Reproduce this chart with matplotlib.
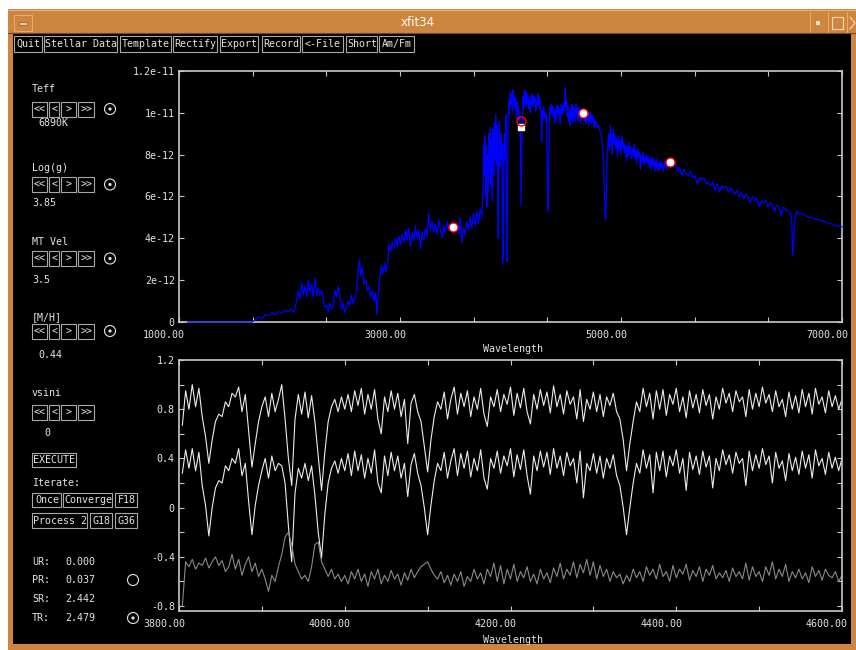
import numpy as np
import matplotlib
matplotlib.use('Agg')
import matplotlib.pyplot as plt
from matplotlib.patches import Rectangle, Circle
from matplotlib.transforms import ScaledTranslation

# ── SED (flux in units of 1e-12) ─────────────────────────────────────────────
sed_wave = [
    1080, 1660, 1690, 1720, 1750, 1780, 1810, 1840, 1870, 1900,
    1930, 1960, 1990, 2020, 2040, 2060, 2080, 2095, 2110, 2125,
    2140, 2155, 2170, 2185, 2200, 2215, 2230, 2245, 2260, 2275,
    2290, 2305, 2320, 2335, 2350, 2365, 2380, 2395, 2410, 2425,
    2440, 2455, 2470, 2485, 2500, 2515, 2530, 2545, 2560, 2575,
    2590, 2605, 2620, 2635, 2645, 2660, 2675, 2690, 2705, 2720,
    2735, 2750, 2765, 2780, 2790, 2800, 2815, 2830, 2845, 2860,
    2875, 2890, 2900, 2915, 2930, 2945, 2960, 2975, 2990, 3005,
    3020, 3035, 3050, 3065, 3080, 3095, 3110, 3125, 3140, 3155,
    3170, 3185, 3200, 3215, 3230, 3245, 3260, 3275, 3290, 3305,
    3320, 3335, 3350, 3365, 3380, 3395, 3410, 3425, 3440, 3455,
    3470, 3485, 3500, 3515, 3530, 3545, 3560, 3575, 3590, 3605,
    3620, 3635, 3650, 3665, 3680, 3695, 3710, 3725, 3740, 3752,
    3758, 3764, 3770, 3776, 3782, 3788, 3794, 3800, 3806, 3812,
    3818, 3824, 3830, 3836, 3842, 3848, 3854, 3860, 3866, 3872,
    3878, 3884, 3889, 3894, 3900, 3906, 3912, 3918, 3924, 3929,
    3934, 3940, 3946, 3952, 3958, 3963, 3968, 3973, 3978, 3984,
    3990, 3996, 4005, 4012, 4018, 4024, 4030, 4036, 4042, 4048,
    4054, 4060, 4066, 4072, 4078, 4084, 4090, 4096, 4102, 4108,
    4114, 4120, 4126, 4132, 4138, 4144, 4150, 4156, 4162, 4168,
    4174, 4180, 4186, 4192, 4198, 4204, 4210, 4216, 4222, 4228,
    4234, 4240, 4246, 4252, 4258, 4264, 4270, 4276, 4282, 4288,
    4294, 4300, 4306, 4312, 4318, 4324, 4330, 4336, 4341, 4346,
    4352, 4358, 4364, 4370, 4376, 4382, 4388, 4394, 4400, 4406,
    4412, 4418, 4424, 4430, 4436, 4442, 4448, 4454, 4460, 4466,
    4472, 4478, 4484, 4490, 4496, 4502, 4508, 4514, 4520, 4526,
    4532, 4538, 4544, 4550, 4556, 4562, 4568, 4574, 4580, 4586,
    4592, 4598, 4604, 4610, 4616, 4622, 4628, 4634, 4640, 4646,
    4652, 4658, 4664, 4670, 4676, 4682, 4688, 4694, 4700, 4706,
    4712, 4718, 4724, 4730, 4736, 4742, 4748, 4754, 4760, 4766,
    4772, 4780, 4790, 4800, 4810, 4820, 4830, 4840, 4848, 4855,
    4861, 4867, 4873, 4880, 4888, 4896, 4904, 4912, 4920, 4928,
    4936, 4944, 4952, 4960, 4968, 4976, 4984, 4992, 5000, 5008,
    5016, 5024, 5032, 5040, 5048, 5056, 5064, 5072, 5080, 5088,
    5096, 5104, 5112, 5120, 5128, 5136, 5144, 5152, 5160, 5168,
    5176, 5184, 5192, 5200, 5208, 5216, 5224, 5232, 5240, 5248,
    5256, 5264, 5272, 5280, 5288, 5296, 5304, 5312, 5320, 5328,
    5336, 5344, 5352, 5360, 5368, 5376, 5384, 5392, 5400, 5410,
    5420, 5430, 5440, 5450, 5470, 5490, 5510, 5530, 5550, 5570,
    5590, 5610, 5630, 5650, 5670, 5690, 5710, 5730, 5750, 5770,
    5790, 5810, 5830, 5850, 5870, 5890, 5910, 5930, 5950, 5970,
    5990, 6010, 6030, 6050, 6070, 6090, 6110, 6130, 6150, 6170,
    6190, 6210, 6230, 6250, 6270, 6290, 6310, 6330, 6350, 6370,
    6390, 6410, 6430, 6450, 6470, 6490, 6510, 6530, 6545, 6552,
    6560, 6570, 6590, 6610, 6640, 6670, 6700, 6730, 6760, 6790,
    6820, 6850, 6880, 6910, 6940, 6970, 7000,
]
sed_flux = [
    0.0, 0.0, 0.1, 0.25, 0.15, 0.35, 0.3, 0.45, 0.35, 0.5,
    0.42, 0.55, 0.5, 0.6, 0.45, 0.9, 1.5, 1.1, 1.9, 1.3,
    1.7, 1.2, 2.0, 1.4, 1.8, 1.2, 2.1, 1.3, 1.6, 1.3,
    1.5, 1.1, 0.7, 0.8, 0.5, 0.9, 0.6, 0.8, 1.5, 1.2,
    1.7, 1.3, 0.6, 0.9, 0.45, 0.7, 1.0, 0.8, 1.3, 0.9,
    1.1, 1.4, 2.4, 3.0, 2.2, 2.6, 1.8, 2.0, 1.5, 1.7,
    1.2, 1.5, 1.0, 1.4, 0.35, 1.2, 2.0, 2.7, 2.3, 2.8,
    2.4, 2.9, 3.7, 3.4, 3.8, 3.5, 4.0, 3.6, 4.1, 3.7,
    4.2, 3.8, 4.4, 3.9, 4.5, 3.6, 4.3, 3.9, 4.6, 4.0,
    4.4, 3.5, 4.3, 3.9, 4.5, 4.1, 5.2, 4.4, 4.8, 4.3,
    4.7, 4.2, 4.9, 4.4, 4.0, 4.6, 4.3, 4.8, 4.4, 4.7,
    4.5, 4.6, 4.3, 4.7, 4.2, 5.0, 3.8, 4.5, 4.2, 4.8,
    4.4, 5.0, 4.5, 5.2, 4.6, 5.3, 4.7, 5.4, 5.0, 6.3,
    8.5, 7.0, 8.9, 6.0, 8.4, 5.5, 8.0, 6.2, 9.0, 7.2,
    9.3, 6.5, 8.7, 5.8, 9.2, 7.0, 9.5, 7.8, 9.9, 7.5,
    9.4, 6.8, 4.0, 8.0, 9.6, 7.4, 9.0, 7.8, 8.5, 2.8,
    3.2, 8.3, 9.0, 7.8, 9.9, 3.5, 2.9, 6.0, 9.5, 10.6,
    9.9, 11.0, 10.4, 10.9, 10.1, 11.1, 10.5, 10.8, 10.2, 10.7,
    9.7, 10.5, 10.0, 10.3, 9.7, 9.9, 8.8, 5.6, 8.5, 9.6,
    10.8, 10.2, 11.1, 10.4, 11.0, 10.3, 10.9, 10.5, 10.8, 10.2,
    10.6, 10.0, 10.8, 10.4, 10.9, 10.3, 10.8, 10.5, 10.7, 10.1,
    10.6, 10.3, 10.9, 10.4, 10.8, 10.2, 10.6, 9.9, 8.6, 10.1,
    9.7, 10.3, 9.8, 10.0, 9.6, 9.9, 8.8, 6.5, 5.3, 7.2,
    9.6, 10.3, 9.9, 10.4, 10.0, 10.3, 9.8, 10.2, 9.5, 10.1,
    9.7, 10.4, 10.0, 10.3, 9.9, 10.2, 9.5, 10.0, 10.4, 9.9,
    10.3, 10.0, 10.5, 10.1, 11.2, 10.3, 10.6, 9.8, 10.3, 9.6,
    10.1, 9.4, 10.2, 9.7, 10.4, 9.5, 10.3, 9.8, 10.2, 9.6,
    10.4, 9.9, 10.2, 9.6, 10.3, 9.8, 10.1, 9.5, 10.2, 9.7,
    10.1, 9.9, 10.2, 9.6, 10.0, 9.5, 10.1, 9.7, 10.0, 9.4,
    9.9, 9.6, 10.0, 9.5, 9.9, 9.6, 9.8, 9.4, 9.7, 9.3,
    9.6, 9.5, 9.3, 9.4, 9.1, 9.0, 8.6, 7.8, 6.5, 5.2,
    4.9, 6.0, 7.6, 8.4, 9.0, 8.2, 9.4, 8.6, 8.0, 9.2,
    8.5, 9.0, 8.3, 8.8, 7.9, 8.9, 8.2, 8.7, 8.0, 8.9,
    8.3, 8.6, 8.1, 8.5, 7.7, 8.4, 7.9, 8.6, 8.0, 8.4,
    7.8, 8.3, 7.9, 8.5, 7.8, 8.2, 7.6, 8.3, 7.9, 8.1,
    7.3, 8.0, 7.7, 8.1, 7.5, 7.9, 7.6, 8.0, 7.6, 7.9,
    7.4, 7.8, 7.3, 7.9, 7.5, 7.8, 7.2, 7.7, 7.4, 7.8,
    7.2, 7.6, 7.3, 7.7, 7.4, 7.6, 7.2, 7.5, 7.7, 7.3,
    7.6, 7.4, 7.7, 7.5, 7.4, 7.6, 7.2, 7.4, 7.0, 7.3,
    7.1, 7.0, 7.2, 6.9, 7.0, 6.6, 6.9, 6.8, 6.9, 6.6,
    6.7, 6.5, 6.7, 6.3, 6.6, 6.2, 6.5, 6.4, 6.5, 6.2,
    6.4, 6.3, 6.1, 6.3, 6.0, 6.2, 5.9, 6.1, 6.0, 5.7,
    6.0, 5.8, 5.9, 5.5, 5.8, 5.7, 5.8, 5.5, 5.7, 5.6,
    5.3, 5.6, 5.5, 5.1, 5.5, 5.4, 5.3, 5.2, 4.9, 3.2,
    3.6, 4.8, 5.3, 5.2, 5.15, 5.1, 5.0, 5.0, 4.9, 4.9,
    4.8, 4.8, 4.7, 4.7, 4.6, 4.6, 4.55,
]

# photometric points (red ring, white fill) and the Hdelta band pair
phot_wave = [3480, 4656, 5443]
phot_flux = [4.54, 9.98, 7.66]
band_wave = [4095]
band_obs = [9.6]
band_syn = [9.3]

# ── Normalised spectrum window (4 A steps from 3804 A) ───────────────────────
obs_norm = [
    0.67, 0.95, 0.80, 1.00, 0.82, 0.97, 0.74, 0.58, 0.36, 0.55,
    0.70, 0.76, 0.74, 0.86, 0.82, 0.93, 0.90, 0.98, 0.78, 0.92,
    0.62, 0.33, 0.52, 0.70, 0.82, 0.90, 0.74, 0.93, 0.78, 0.88,
    1.00, 0.72, 0.40, 0.18, 0.72, 0.92, 0.76, 0.94, 0.73, 0.91,
    0.70, 0.42, 0.14, 0.45, 0.70, 0.82, 0.88, 0.78, 0.90, 0.80,
    0.92, 0.78, 0.95, 0.83, 0.97, 0.76, 0.92, 0.80, 0.96, 0.72,
    0.60, 0.90, 0.78, 0.95, 0.80, 0.93, 0.74, 0.88, 0.52, 0.85,
    0.92, 0.78, 0.70, 0.50, 0.29, 0.55, 0.74, 0.86, 0.80, 0.94,
    0.72, 0.88, 0.98, 0.76, 0.93, 0.82, 0.95, 0.74, 0.90, 0.80,
    0.97, 0.76, 0.66, 0.90, 0.82, 0.96, 0.78, 0.92, 0.84, 0.98,
    0.75, 0.93, 0.81, 0.97, 0.78, 0.68, 0.92, 0.80, 0.96, 0.83,
    0.94, 0.77, 0.99, 0.82, 0.92, 0.76, 0.95, 0.84, 0.90, 0.72,
    0.96, 0.70, 0.88, 0.80, 0.94, 0.78, 0.92, 0.74, 0.90, 0.83,
    0.93, 0.78, 0.72, 0.55, 0.30, 0.52, 0.70, 0.86, 0.78, 0.97,
    0.82, 0.93, 0.72, 0.95, 0.80, 0.96, 0.75, 0.92, 0.84, 0.97,
    0.78, 0.90, 0.73, 0.95, 0.81, 0.92, 0.77, 0.96, 0.83, 0.92,
    0.72, 0.90, 0.80, 0.97, 0.85, 0.93, 0.78, 0.95, 0.86, 0.90,
    0.74, 0.96, 0.80, 0.93, 0.82, 0.98, 0.85, 0.92, 0.78, 0.95,
    0.82, 0.88, 0.74, 0.94, 0.80, 0.91, 0.77, 0.96, 0.82, 0.93,
    0.76, 0.97, 0.84, 0.90, 0.77, 0.95, 0.82, 0.91, 0.80, 0.88,
]
tpl_norm = [
    0.28, 0.47, 0.32, 0.48, 0.30, 0.45, 0.18, 0.02, -0.23, 0.00,
    0.16, 0.22, 0.20, 0.34, 0.30, 0.40, 0.36, 0.48, 0.26, 0.36,
    0.05, -0.22, 0.02, 0.18, 0.30, 0.40, 0.24, 0.42, 0.30, 0.36,
    0.34, 0.20, -0.15, -0.44, 0.12, 0.32, 0.24, 0.36, 0.22, 0.34,
    0.10, -0.20, -0.41, -0.05, 0.20, 0.32, 0.38, 0.28, 0.40, 0.30,
    0.44, 0.26, 0.46, 0.30, 0.43, 0.24, 0.40, 0.28, 0.47, 0.20,
    0.12, 0.42, 0.26, 0.45, 0.30, 0.42, 0.24, 0.36, 0.09, 0.35,
    0.44, 0.28, 0.18, 0.00, -0.22, 0.02, 0.22, 0.36, 0.30, 0.45,
    0.24, 0.38, 0.48, 0.26, 0.44, 0.32, 0.46, 0.25, 0.40, 0.30,
    0.47, 0.24, 0.15, 0.40, 0.32, 0.46, 0.28, 0.42, 0.34, 0.48,
    0.25, 0.43, 0.31, 0.47, 0.26, 0.11, 0.42, 0.30, 0.46, 0.33,
    0.45, 0.27, 0.48, 0.32, 0.42, 0.26, 0.45, 0.34, 0.40, 0.20,
    0.46, 0.08, 0.36, 0.30, 0.44, 0.28, 0.42, 0.24, 0.40, 0.32,
    0.43, 0.26, 0.18, 0.00, -0.22, 0.00, 0.20, 0.36, 0.28, 0.47,
    0.32, 0.43, 0.12, 0.45, 0.30, 0.46, 0.25, 0.42, 0.34, 0.47,
    0.28, 0.40, 0.14, 0.45, 0.31, 0.42, 0.27, 0.46, 0.33, 0.42,
    0.16, 0.40, 0.30, 0.47, 0.35, 0.43, 0.28, 0.45, 0.36, 0.40,
    0.18, 0.46, 0.30, 0.43, 0.32, 0.48, 0.35, 0.42, 0.20, 0.45,
    0.32, 0.38, 0.22, 0.44, 0.30, 0.41, 0.27, 0.46, 0.32, 0.43,
    0.24, 0.47, 0.34, 0.40, 0.27, 0.45, 0.32, 0.41, 0.30, 0.40,
]
resid = [
    -0.80, -0.44, -0.48, -0.42, -0.50, -0.45, -0.47, -0.41, -0.49, -0.44,
    -0.40, -0.47, -0.43, -0.52, -0.48, -0.38, -0.50, -0.42, -0.55, -0.46,
    -0.40, -0.52, -0.45, -0.56, -0.50, -0.58, -0.68, -0.55, -0.60, -0.48,
    -0.38, -0.24, -0.20, -0.30, -0.46, -0.52, -0.58, -0.55, -0.60, -0.48,
    -0.30, -0.28, -0.44, -0.50, -0.56, -0.50, -0.58, -0.54, -0.60, -0.55,
    -0.62, -0.52, -0.58, -0.50, -0.60, -0.54, -0.64, -0.52, -0.58, -0.50,
    -0.62, -0.55, -0.60, -0.51, -0.58, -0.54, -0.63, -0.53, -0.59, -0.50,
    -0.57, -0.52, -0.48, -0.46, -0.44, -0.50, -0.55, -0.58, -0.52, -0.61,
    -0.55, -0.63, -0.54, -0.60, -0.52, -0.64, -0.56, -0.60, -0.50, -0.58,
    -0.53, -0.62, -0.50, -0.56, -0.45, -0.60, -0.47, -0.62, -0.50, -0.58,
    -0.46, -0.60, -0.52, -0.57, -0.48, -0.60, -0.54, -0.62, -0.50, -0.58,
    -0.53, -0.61, -0.49, -0.56, -0.45, -0.58, -0.50, -0.55, -0.44, -0.57,
    -0.46, -0.53, -0.42, -0.55, -0.44, -0.58, -0.47, -0.56, -0.50, -0.60,
    -0.52, -0.57, -0.54, -0.62, -0.55, -0.60, -0.50, -0.57, -0.52, -0.60,
    -0.48, -0.55, -0.50, -0.58, -0.46, -0.56, -0.52, -0.60, -0.47, -0.57,
    -0.50, -0.54, -0.46, -0.59, -0.51, -0.56, -0.48, -0.60, -0.50, -0.55,
    -0.47, -0.58, -0.53, -0.57, -0.51, -0.60, -0.49, -0.56, -0.52, -0.58,
    -0.45, -0.59, -0.48, -0.56, -0.52, -0.60, -0.48, -0.55, -0.44, -0.58,
    -0.50, -0.56, -0.46, -0.60, -0.52, -0.57, -0.50, -0.58, -0.53, -0.61,
    -0.48, -0.56, -0.51, -0.59, -0.50, -0.55, -0.57, -0.52, -0.60, -0.55,
]
norm_start, norm_step = 3804, 4

# ── Widget labels ────────────────────────────────────────────────────────────
menu_items = ['Quit', 'Stellar Data', 'Template', 'Rectify', 'Export',
              'Record', '<-File', 'Short', 'Am/Fm']
param_names = ['Teff', 'Log(g)', 'MT Vel', '[M/H]', 'vsini']
param_values = ['6890K', '3.85', '3.5', '0.44', '0']
stat_names = ['UR:', 'PR:', 'SR:', 'TR:']
stat_values = ['0.000', '0.037', '2.442', '2.479']

W, H = 856, 650
MONO = 'DejaVu Sans Mono'
FS = 7.2
FG = '#e4e4e4'
EDGE = '#a8a8a8'
ORANGE = '#cd853f'

fig = plt.figure(figsize=(W / 100, H / 100), dpi=100, facecolor='black')

# pixel-space layer for the window frame and the control panel
ui = fig.add_axes([0, 0, 1, 1])
ui.set_xlim(0, W)
ui.set_ylim(H, 0)
ui.axis('off')


def label(x, y, s, **kw):
    kw.setdefault('ha', 'left')
    ui.text(x, y, s, color=FG, family=MONO, fontsize=FS, va='center', **kw)


def button(x0, y0, x1, y1, s=None):
    ui.add_patch(Rectangle((x0 + 0.5, y0 + 0.5), x1 - x0 - 1, y1 - y0 - 1,
                           fc='black', ec=EDGE, lw=0.8))
    if s:
        label((x0 + x1) / 2, (y0 + y1) / 2 + 0.5, s, ha='center')


def radio(x, y, on=True):
    ui.add_patch(Circle((x, y), 5.5, fc='none', ec=FG, lw=0.8))
    if on:
        ui.add_patch(Circle((x, y), 1.6, fc=FG, ec='none'))


# frame + title bar
ui.add_patch(Rectangle((0, 0), W, H, fc='white', ec='none'))
ui.add_patch(Rectangle((8, 9), W - 8, H - 9, fc=ORANGE, ec='none'))
ui.add_patch(Rectangle((13, 33), 838, 611, fc='black', ec='none'))
ui.plot([8, W], [10, 10], color='#eab27a', lw=0.8)
ui.plot([8, W], [32.5, 32.5], color='#7a4a1e', lw=0.8)
ui.add_patch(Rectangle((14, 15), 18, 16, fc='none', ec='#e8ac70', lw=0.7))
ui.add_patch(Rectangle((19, 21.5), 8, 3, fc='#f2c898', ec='#8a5a2a', lw=0.5))
for xs in (810, 828, 847):
    ui.plot([xs, xs], [12, 32], color='#e8ac70', lw=0.7)
ui.add_patch(Rectangle((816, 21), 4, 4, fc='#f6dcb8', ec='none'))
ui.add_patch(Rectangle((832, 17), 11, 12, fc='none', ec='#f6dcb8', lw=0.8))
ui.plot([850, 855, 850], [17, 23, 29], color='#f6dcb8', lw=0.8)
ui.text(418, 22, 'xfit34', color='white', family='DejaVu Sans', fontsize=8.5,
        ha='center', va='center')

# menu bar
menu_x = [(14, 43), (44, 118), (120, 172), (173, 218), (220, 259),
          (262, 301), (302, 344), (346, 378), (379, 415)]
for s, (x0, x1) in zip(menu_items, menu_x):
    button(x0, 35, x1, 52, s)

# parameter steppers
rows_y = [(89, 109, 123), (168, 184.5, 203), (242, 258.5, 280),
          (317, 331, 355), (393, 412, 433)]
value_x = [38, 32, 32, 38, 44]
arrows = [(32, 48, '<<'), (49, 60, '<'), (61, 77, '>'), (78, 95, '>>')]
for i, (name, val) in enumerate(zip(param_names, param_values)):
    yl, yb, yv = rows_y[i]
    label(32, yl, name)
    for x0, x1, s in arrows:
        button(x0, yb - 8, x1, yb + 8, s)
    if name != 'vsini':
        radio(110, yb)
    label(value_x[i], yv, val)

button(32, 452, 77, 467, 'EXECUTE')
label(32, 483, 'Iterate:')
for x0, x1, s in [(32, 62, 'Once'), (63, 113, 'Converge'), (115, 138, 'F18')]:
    button(x0, 492, x1, 507, s)
for x0, x1, s in [(32, 88, 'Process 2'), (90, 113, 'G18'), (115, 138, 'G36')]:
    button(x0, 512, x1, 528, s)

for name, val, y in zip(stat_names, stat_values, [562, 580, 599, 618]):
    label(32, y, name)
    label(65, y, val)
radio(133, 580, on=False)
radio(133, 618)

label(513, 349, 'Wavelength', ha='center')
label(513, 640, 'Wavelength', ha='center')


# ── Plot panels ──────────────────────────────────────────────────────────────
def px_axes(x0, y0, x1, y1):
    return fig.add_axes([x0 / W, 1 - y1 / H, (x1 - x0) / W, (y1 - y0) / H])


def style(ax, xpad):
    ax.set_facecolor('black')
    for sp in ax.spines.values():
        sp.set_color('#c8c8c8')
        sp.set_linewidth(1.2)
    ax.tick_params(which='both', direction='in', length=3.8, width=0.8,
                   color='#c8c8c8', top=True, right=True,
                   labelcolor=FG, labelsize=FS)
    ax.tick_params(axis='x', pad=xpad)
    ax.tick_params(axis='y', pad=3)
    shift = ScaledTranslation(0.06, 0, fig.dpi_scale_trans)
    for lab in ax.get_xticklabels():
        lab.set_horizontalalignment('right')
        lab.set_transform(lab.get_transform() + shift)
    for lab in ax.get_xticklabels() + ax.get_yticklabels():
        lab.set_family(MONO)


top = px_axes(179, 71, 842, 322)
# spectrum drawn over the spines so the zero-flux stretch shows on the axis
top.plot(sed_wave, sed_flux, color='#0000ff', lw=0.9, zorder=3, clip_on=False)
top.plot(phot_wave, phot_flux, 'o', ms=6.5, mfc='white', mec='red', mew=1.0, zorder=4)
top.plot(band_wave, band_syn, 's', ms=5, mfc='white', mec='white', zorder=4)
top.plot(band_wave, band_obs, 'o', ms=6.5, mfc='none', mec='red', mew=1.0, zorder=4)
top.set_xlim(1000, 7000)
top.set_ylim(0, 12)
xt = np.linspace(1000, 7000, 10)
top.set_xticks(xt[::3], ['%.2f' % v for v in xt[::3]])
top.set_xticks([v for i, v in enumerate(xt) if i % 3], minor=True)
top.set_yticks([0, 2, 4, 6, 8, 10, 12],
               ['0', '2e-12', '4e-12', '6e-12', '8e-12', '1e-11', '1.2e-11'])
style(top, 6)

bot = px_axes(179, 360, 842, 611)
bot.plot(norm_start + norm_step * np.arange(len(obs_norm)), obs_norm,
         color='#ececec', lw=0.8)
bot.plot(norm_start + norm_step * np.arange(len(tpl_norm)), tpl_norm,
         color='#ececec', lw=0.8)
bot.plot(norm_start + norm_step * np.arange(len(resid)), resid,
         color='#8a8a8a', lw=0.8)
bot.set_xlim(3800, 4600)
bot.set_ylim(-0.84, 1.2)
bot.set_xticks([3800, 4000, 4200, 4400, 4600],
               ['3800.00', '4000.00', '4200.00', '4400.00', '4600.00'])
bot.set_xticks([3900, 4100, 4300, 4500], minor=True)
bot.set_yticks([-0.8, -0.4, 0, 0.4, 0.8, 1.2],
               ['-0.8', '-0.4', '0', '0.4', '0.8', '1.2'])
bot.set_yticks([-0.6, -0.2, 0.2, 0.6, 1.0], minor=True)
style(bot, 5.5)

fig.savefig('out.png', dpi=100, facecolor='black')
